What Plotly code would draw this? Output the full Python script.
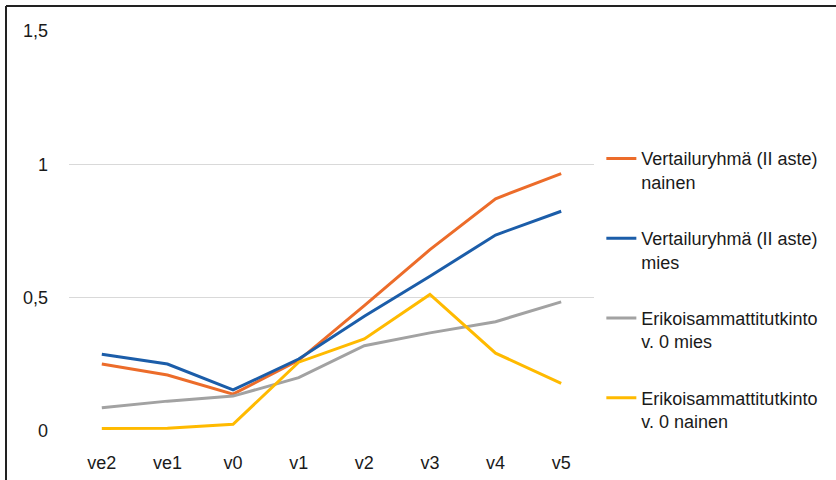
import plotly.graph_objects as go

categories = ["ve2", "ve1", "v0", "v1", "v2", "v3", "v4", "v5"]

vertailu_nainen = [0.251, 0.210, 0.138, 0.265, 0.470, 0.680, 0.871, 0.965]
vertailu_mies = [0.288, 0.251, 0.154, 0.270, 0.430, 0.580, 0.735, 0.824]
erikois_mies = [0.087, 0.112, 0.131, 0.200, 0.320, 0.368, 0.410, 0.484]
erikois_nainen = [0.009, 0.010, 0.025, 0.258, 0.345, 0.512, 0.292, 0.179]

series_names = [
    "Vertailuryhmä (II aste)<br>nainen",
    "Vertailuryhmä (II aste)<br>mies",
    "Erikoisammattitutkinto<br>v. 0 mies",
    "Erikoisammattitutkinto<br>v. 0 nainen",
]
series_values = [vertailu_nainen, vertailu_mies, erikois_mies, erikois_nainen]
series_colors = ["#EC6C2A", "#1B5DA9", "#A2A2A2", "#FFBA00"]

y_tickvals = [0, 0.5, 1, 1.5]

FONT = "Liberation Sans, Arial, sans-serif"
TEXT = "#1a1a1a"

fig = go.Figure()
for i, (name, vals, col) in enumerate(zip(series_names, series_values, series_colors)):
    fig.add_trace(go.Scatter(
        x=categories, y=vals, name=name, mode="lines",
        line=dict(color=col, width=3),
        legendgroup=f"g{i}",
    ))

fig.update_layout(
    width=836, height=480,
    margin=dict(l=69, r=242, t=31, b=49, autoexpand=False),
    paper_bgcolor="white", plot_bgcolor="white",
    separators=", ",
    font=dict(family=FONT, size=18, color=TEXT),
    showlegend=True,
    legend=dict(
        x=1.014, xanchor="left", y=0.727, yanchor="top",
        font=dict(family=FONT, size=18, color=TEXT),
        tracegroupgap=30, valign="top",
        bgcolor="rgba(0,0,0,0)",
        traceorder="grouped",
    ),
    xaxis=dict(
        type="category", range=[-0.5, 7.5], showgrid=False, zeroline=False,
        showline=False, ticks="", ticklabelstandoff=19, automargin=False,
        tickfont=dict(family=FONT, size=18, color=TEXT),
    ),
    yaxis=dict(
        range=[0, 1.5], tickvals=y_tickvals,
        showgrid=True, gridcolor="#d9d9d9", gridwidth=1,
        zeroline=False, showline=False, ticks="",
        ticklabelstandoff=20, automargin=False,
        tickfont=dict(family=FONT, size=18, color=TEXT),
    ),
    shapes=[
        dict(type="line", xref="paper", yref="paper",
             x0=-0.12, x1=1.5, y0=1.0625, y1=1.0625,
             line=dict(color="#222222", width=2)),
        dict(type="line", xref="paper", yref="paper",
             x0=-0.12, x1=-0.12, y0=1.0625, y1=-0.2,
             line=dict(color="#222222", width=2)),
    ],
)

fig.write_html("out.html")
